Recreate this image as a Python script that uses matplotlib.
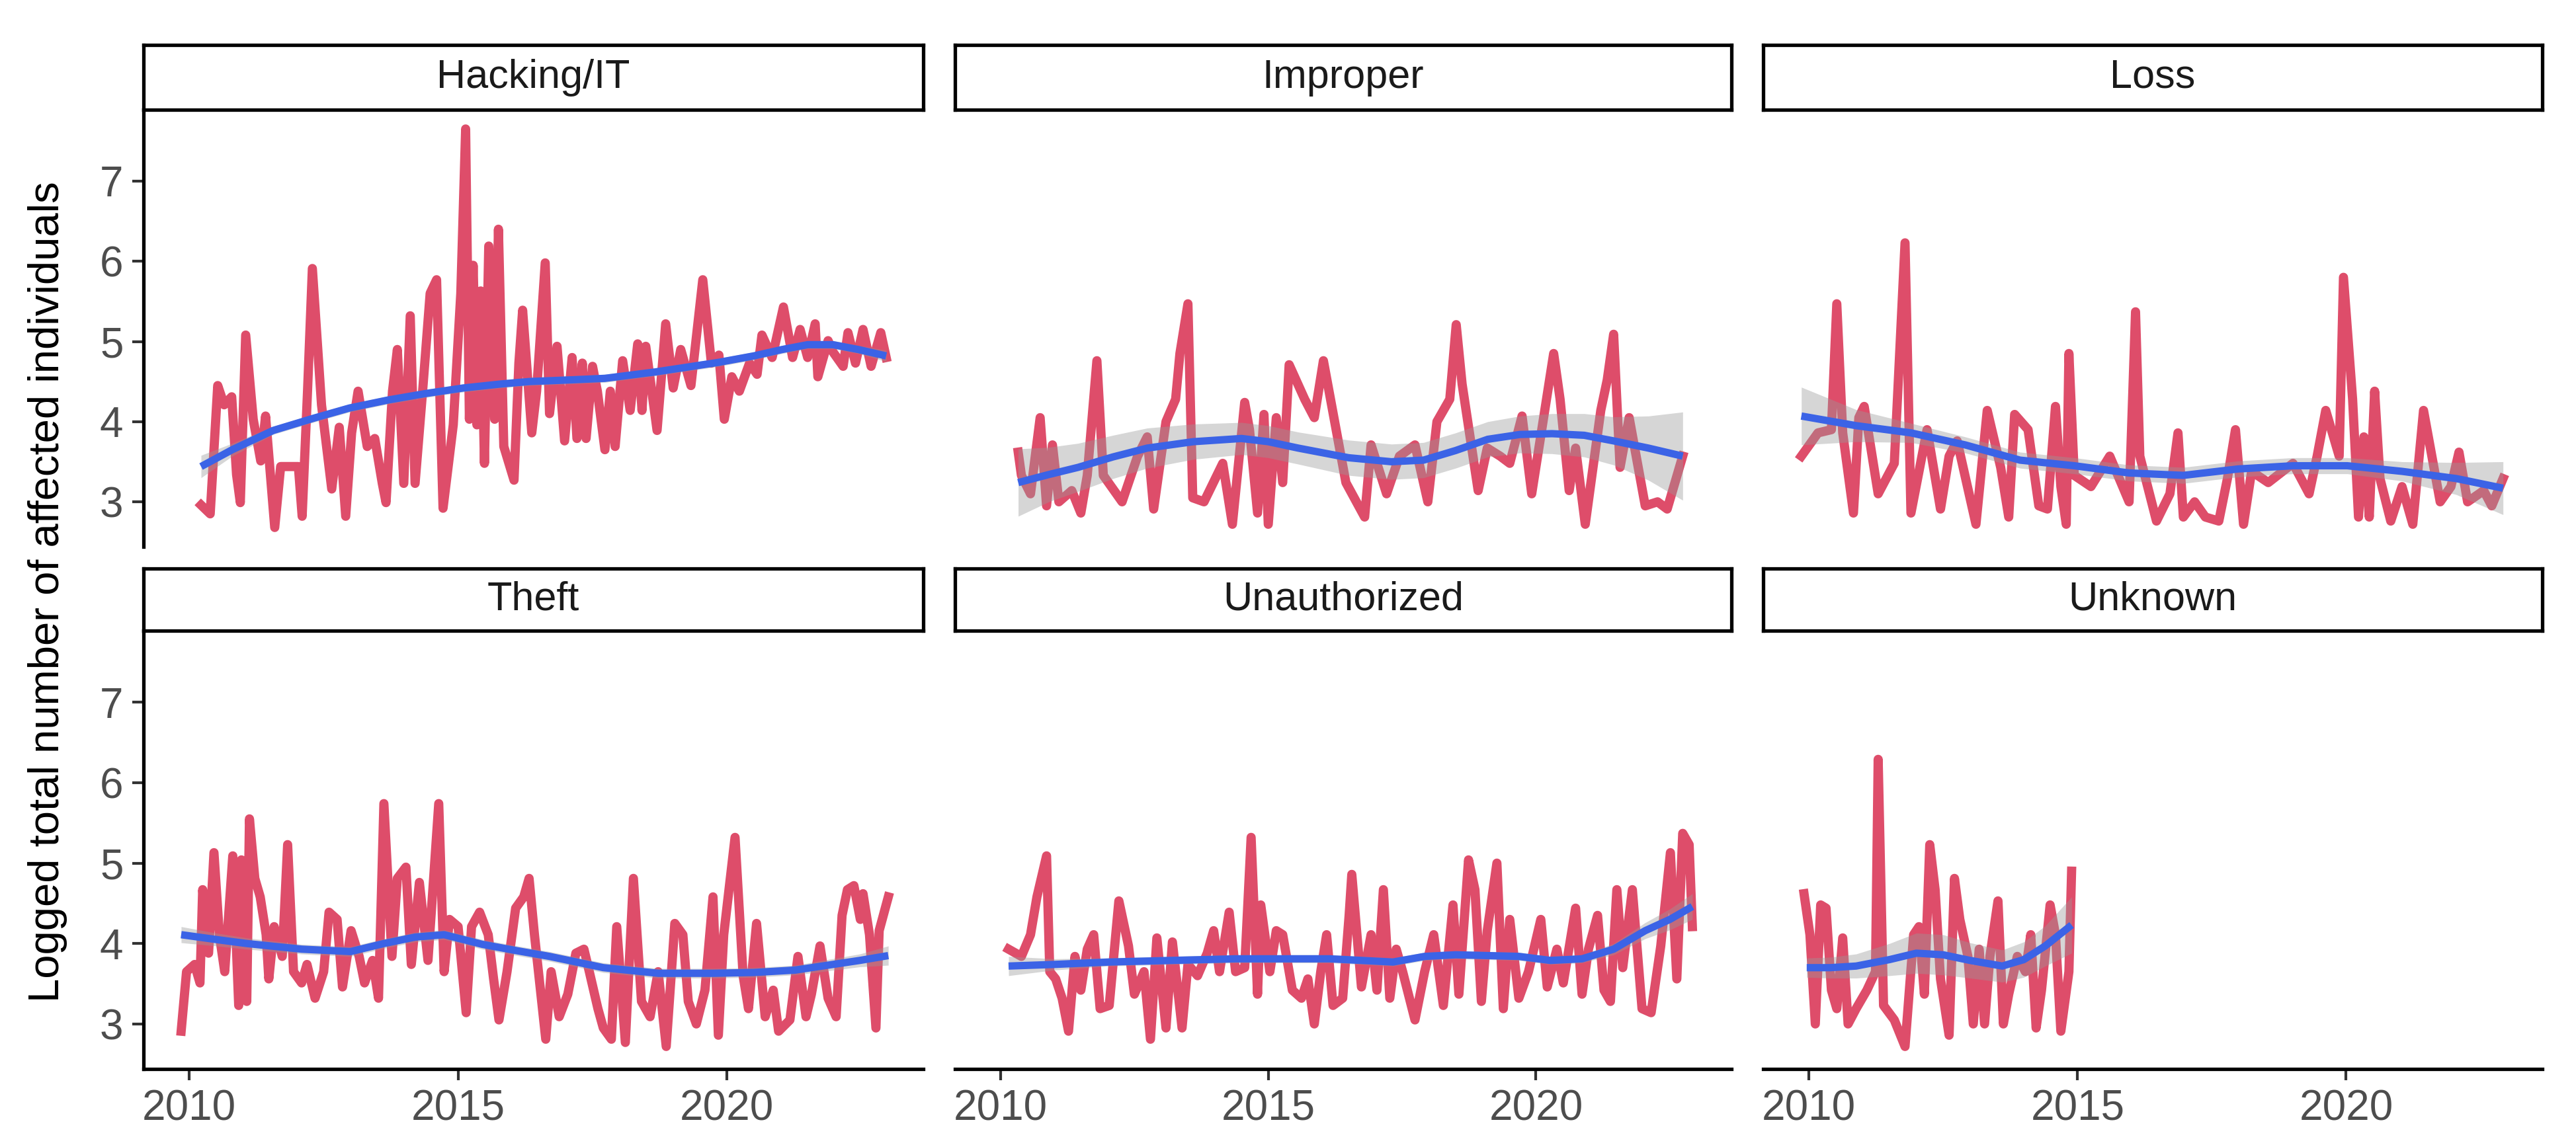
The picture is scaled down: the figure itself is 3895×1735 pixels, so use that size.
# Faceted monthly series of logged breach sizes by breach type, with a smooth trend
import numpy as np
import matplotlib
matplotlib.use("Agg")
import matplotlib.pyplot as plt

plt.rcParams['font.family'] = ['Liberation Sans', 'DejaVu Sans']

# facet names
categories = ["Hacking/IT", "Improper", "Loss", "Theft", "Unauthorized", "Unknown"]

# raw series (decimal year, logged total)
hacking_x = [2010.22, 2010.39, 2010.53, 2010.65, 2010.79, 2010.88, 2010.95, 2011.05, 2011.19, 2011.33,
             2011.42, 2011.59, 2011.70, 2012.03, 2012.10, 2012.20, 2012.29, 2012.46, 2012.65, 2012.79,
             2012.91, 2013.02, 2013.14, 2013.31, 2013.45, 2013.59, 2013.66, 2013.78, 2013.87, 2013.99,
             2014.11, 2014.20, 2014.34, 2014.48, 2014.60, 2014.72, 2014.91, 2015.05, 2015.14, 2015.21,
             2015.28, 2015.35, 2015.42, 2015.49, 2015.57, 2015.68, 2015.75, 2015.85, 2016.04, 2016.13,
             2016.20, 2016.37, 2016.46, 2016.62, 2016.70, 2016.84, 2016.98, 2017.12, 2017.21, 2017.31,
             2017.38, 2017.50, 2017.59, 2017.73, 2017.83, 2017.92, 2018.06, 2018.20, 2018.34, 2018.42,
             2018.49, 2018.70, 2018.86, 2019.00, 2019.14, 2019.33, 2019.55, 2019.71, 2019.85, 2019.95,
             2020.09, 2020.23, 2020.42, 2020.56, 2020.65, 2020.84, 2021.05, 2021.22, 2021.36, 2021.50,
             2021.64, 2021.69, 2021.88, 2021.97, 2022.16, 2022.25, 2022.39, 2022.53, 2022.68, 2022.86,
             2022.96]
hacking_y = [2.96, 2.85, 4.45, 4.21, 4.31, 3.34, 2.99, 5.08, 4.03, 3.51,
             4.07, 2.68, 3.44, 3.44, 2.82, 4.38, 5.91, 4.21, 3.16, 3.93,
             2.82, 3.86, 4.38, 3.69, 3.79, 3.23, 2.99, 4.38, 4.90, 3.23,
             5.32, 3.23, 4.38, 5.60, 5.77, 2.92, 3.96, 5.60, 7.65, 4.03,
             5.95, 3.96, 5.63, 3.48, 6.19, 4.03, 6.40, 3.69, 3.27, 4.73,
             5.39, 3.86, 4.38, 5.98, 4.10, 4.94, 3.76, 4.80, 3.79, 4.73,
             3.79, 4.69, 4.38, 3.65, 4.38, 3.69, 4.76, 4.14, 4.97, 4.14,
             4.94, 3.89, 5.22, 4.42, 4.90, 4.45, 5.77, 4.73, 4.83, 4.03,
             4.56, 4.38, 4.73, 4.59, 5.08, 4.80, 5.43, 4.80, 5.15, 4.80,
             5.22, 4.56, 5.01, 4.87, 4.69, 5.11, 4.73, 5.15, 4.69, 5.11,
             4.80]

improper_x = [2010.33, 2010.39, 2010.56, 2010.74, 2010.86, 2010.97, 2011.09, 2011.33, 2011.50, 2011.62,
              2011.80, 2011.92, 2012.27, 2012.56, 2012.74, 2012.86, 2013.09, 2013.27, 2013.35, 2013.50,
              2013.59, 2013.80, 2014.15, 2014.33, 2014.56, 2014.65, 2014.80, 2014.92, 2015.00, 2015.15,
              2015.27, 2015.39, 2015.68, 2015.86, 2016.03, 2016.45, 2016.80, 2016.92, 2017.21, 2017.45,
              2017.74, 2017.98, 2018.15, 2018.39, 2018.51, 2018.62, 2018.92, 2019.09, 2019.33, 2019.51,
              2019.74, 2019.92, 2020.33, 2020.45, 2020.62, 2020.74, 2020.92, 2021.21, 2021.33, 2021.45,
              2021.57, 2021.74, 2022.04, 2022.27, 2022.45, 2022.74]
improper_y = [3.62, 3.33, 3.10, 4.05, 2.95, 3.71, 3.00, 3.14, 2.86, 3.33,
              4.76, 3.33, 3.00, 3.57, 3.81, 2.91, 4.00, 4.28, 4.85, 5.47,
              3.05, 3.00, 3.48, 2.72, 4.24, 3.90, 2.86, 4.09, 2.72, 4.05,
              3.24, 4.71, 4.28, 4.05, 4.76, 3.24, 2.81, 3.71, 3.10, 3.57,
              3.71, 3.00, 4.00, 4.28, 5.21, 4.47, 3.14, 3.67, 3.57, 3.48,
              4.07, 3.10, 4.85, 4.28, 3.14, 3.67, 2.72, 4.14, 4.52, 5.09,
              3.43, 4.05, 2.95, 3.00, 2.91, 3.57]

loss_x = [2009.86, 2010.17, 2010.42, 2010.52, 2010.63, 2010.83, 2010.93, 2011.03, 2011.29, 2011.59,
          2011.79, 2011.90, 2012.20, 2012.45, 2012.61, 2012.76, 2013.11, 2013.32, 2013.57, 2013.72,
          2013.83, 2014.08, 2014.28, 2014.44, 2014.59, 2014.69, 2014.79, 2014.84, 2014.94, 2015.25,
          2015.60, 2015.96, 2016.08, 2016.16, 2016.47, 2016.72, 2016.87, 2016.97, 2017.18, 2017.38,
          2017.63, 2017.79, 2017.94, 2018.09, 2018.24, 2018.55, 2019.01, 2019.31, 2019.46, 2019.62,
          2019.87, 2019.95, 2020.12, 2020.23, 2020.33, 2020.43, 2020.53, 2020.63, 2020.83, 2021.04,
          2021.24, 2021.44, 2021.75, 2021.95, 2022.10, 2022.26, 2022.56, 2022.71, 2022.92]
loss_y = [3.57, 3.86, 3.90, 5.47, 3.86, 2.86, 4.05, 4.19, 3.10, 3.48,
          6.23, 2.86, 3.90, 2.91, 3.57, 3.76, 2.72, 4.14, 3.43, 2.81,
          4.09, 3.90, 2.95, 2.91, 4.19, 3.19, 2.72, 4.85, 3.33, 3.19,
          3.57, 3.00, 5.37, 3.57, 2.76, 3.10, 3.86, 2.81, 3.00, 2.81,
          2.76, 3.29, 3.90, 2.72, 3.38, 3.24, 3.48, 3.10, 3.57, 4.14,
          3.57, 5.80, 4.28, 2.81, 3.81, 2.81, 4.38, 3.29, 2.76, 3.19,
          2.72, 4.14, 3.00, 3.19, 3.62, 3.00, 3.14, 2.95, 3.29]

theft_x = [2009.85, 2009.95, 2010.10, 2010.20, 2010.25, 2010.36, 2010.46, 2010.56, 2010.66, 2010.81,
           2010.92, 2010.97, 2011.07, 2011.12, 2011.22, 2011.32, 2011.43, 2011.48, 2011.58, 2011.73,
           2011.83, 2011.94, 2012.09, 2012.19, 2012.34, 2012.50, 2012.60, 2012.75, 2012.85, 2013.01,
           2013.16, 2013.26, 2013.41, 2013.52, 2013.62, 2013.77, 2013.87, 2014.03, 2014.13, 2014.28,
           2014.44, 2014.64, 2014.74, 2014.84, 2015.00, 2015.15, 2015.25, 2015.40, 2015.56, 2015.66,
           2015.76, 2015.91, 2016.07, 2016.22, 2016.32, 2016.42, 2016.63, 2016.73, 2016.88, 2017.04,
           2017.19, 2017.34, 2017.44, 2017.60, 2017.70, 2017.85, 2017.95, 2018.11, 2018.26, 2018.41,
           2018.57, 2018.72, 2018.87, 2019.03, 2019.18, 2019.28, 2019.43, 2019.59, 2019.74, 2019.84,
           2019.94, 2020.15, 2020.30, 2020.40, 2020.55, 2020.71, 2020.86, 2020.96, 2021.17, 2021.32,
           2021.47, 2021.57, 2021.73, 2021.88, 2022.03, 2022.14, 2022.24, 2022.36, 2022.48, 2022.53,
           2022.65, 2022.77, 2022.83, 2023.00]
theft_y = [2.91, 3.65, 3.74, 3.51, 4.67, 3.88, 5.13, 4.11, 3.65, 5.09,
           3.23, 5.04, 3.28, 5.55, 4.81, 4.58, 4.11, 3.56, 4.21, 3.84,
           5.23, 3.65, 3.51, 3.74, 3.32, 3.65, 4.39, 4.30, 3.46, 4.16,
           3.84, 3.51, 3.79, 3.32, 5.74, 3.84, 4.81, 4.95, 3.74, 4.76,
           3.79, 5.74, 3.65, 4.30, 4.21, 3.14, 4.21, 4.39, 4.11, 3.56,
           3.05, 3.65, 4.44, 4.58, 4.81, 4.11, 2.81, 3.65, 3.09, 3.37,
           3.88, 3.93, 3.65, 3.19, 2.95, 2.81, 4.21, 2.77, 4.81, 3.28,
           3.09, 3.65, 2.72, 4.25, 4.11, 3.28, 3.00, 3.42, 4.58, 2.86,
           4.11, 5.32, 3.60, 3.19, 4.25, 3.09, 3.42, 2.91, 3.05, 3.84,
           3.09, 3.37, 3.97, 3.32, 3.09, 4.35, 4.67, 4.72, 4.30, 4.62,
           4.11, 2.95, 4.16, 4.58]

unauth_x = [2010.15, 2010.39, 2010.56, 2010.68, 2010.86, 2010.92, 2011.03, 2011.15, 2011.27, 2011.39,
            2011.50, 2011.62, 2011.74, 2011.86, 2012.03, 2012.21, 2012.39, 2012.50, 2012.68, 2012.80,
            2012.92, 2013.09, 2013.21, 2013.39, 2013.50, 2013.68, 2013.86, 2013.98, 2014.09, 2014.27,
            2014.39, 2014.56, 2014.68, 2014.80, 2014.86, 2015.03, 2015.15, 2015.27, 2015.45, 2015.62,
            2015.74, 2015.86, 2015.98, 2016.09, 2016.21, 2016.39, 2016.51, 2016.56, 2016.74, 2016.92,
            2017.03, 2017.15, 2017.27, 2017.39, 2017.51, 2017.74, 2017.92, 2018.09, 2018.27, 2018.45,
            2018.56, 2018.74, 2018.86, 2018.98, 2019.09, 2019.27, 2019.39, 2019.51, 2019.68, 2019.86,
            2020.09, 2020.21, 2020.39, 2020.51, 2020.74, 2020.86, 2020.98, 2021.15, 2021.27, 2021.39,
            2021.51, 2021.62, 2021.80, 2021.98, 2022.15, 2022.33, 2022.51, 2022.63, 2022.74, 2022.86,
            2022.92]
unauth_y = [3.93, 3.84, 4.11, 4.58, 5.09, 3.65, 3.56, 3.32, 2.91, 3.84,
            3.42, 3.93, 4.11, 3.19, 3.23, 4.53, 3.97, 3.37, 3.65, 2.81,
            4.07, 2.95, 4.02, 2.95, 3.74, 3.60, 3.88, 4.16, 3.65, 4.39,
            3.65, 3.70, 5.32, 3.37, 4.48, 3.65, 4.16, 4.11, 3.42, 3.32,
            3.56, 3.00, 3.65, 4.11, 3.23, 3.32, 4.35, 4.86, 3.46, 4.11,
            3.42, 4.67, 3.32, 3.93, 3.65, 3.05, 3.65, 4.11, 3.23, 4.48,
            3.37, 5.04, 4.67, 3.28, 4.16, 5.00, 3.19, 4.30, 3.32, 3.65,
            4.30, 3.46, 3.93, 3.51, 4.44, 3.37, 3.93, 4.35, 3.42, 3.28,
            4.67, 3.70, 4.67, 3.19, 3.14, 3.97, 5.13, 3.56, 5.37, 5.23,
            4.21]

unknown_x = [2009.91, 2010.02, 2010.12, 2010.22, 2010.32, 2010.42, 2010.52, 2010.63, 2010.73, 2010.88,
             2011.08, 2011.24, 2011.29, 2011.39, 2011.59, 2011.79, 2011.95, 2012.05, 2012.15, 2012.25,
             2012.35, 2012.45, 2012.61, 2012.71, 2012.81, 2012.96, 2013.06, 2013.17, 2013.27, 2013.37,
             2013.52, 2013.62, 2013.72, 2013.88, 2014.03, 2014.13, 2014.23, 2014.33, 2014.49, 2014.59,
             2014.69, 2014.84, 2014.89]
unknown_y = [4.62, 4.11, 3.00, 4.48, 4.44, 3.42, 3.19, 4.07, 3.00, 3.19,
             3.42, 3.65, 6.29, 3.23, 3.05, 2.72, 4.11, 4.21, 3.37, 5.23,
             4.67, 3.56, 2.86, 4.81, 4.30, 3.84, 3.00, 3.93, 3.00, 3.84,
             4.53, 3.00, 3.37, 3.84, 3.65, 4.11, 2.95, 3.42, 4.48, 4.11,
             2.91, 3.65, 4.90]

# smooth trend (year, fitted value, half width of the grey band)
hacking_fit_x = [2010.22, 2010.8, 2011.56, 2012.3, 2012.98, 2013.7, 2014.39, 2015.1, 2015.80, 2016.32,
                 2017.06, 2017.73, 2018.67, 2019.85, 2020.5, 2021.03, 2021.5, 2021.97, 2022.44, 2022.96]
hacking_fit_y = [3.44, 3.65, 3.89, 4.04, 4.17, 4.27, 4.35, 4.42, 4.47, 4.50,
                 4.52, 4.54, 4.62, 4.74, 4.82, 4.90, 4.96, 4.96, 4.90, 4.82]
hacking_fit_se = [0.14, 0.08, 0.05, 0.05, 0.05, 0.05, 0.05, 0.05, 0.05, 0.05,
                  0.05, 0.05, 0.05, 0.05, 0.05, 0.05, 0.05, 0.05, 0.05, 0.07]

improper_fit_x = [2010.33, 2010.9, 2011.45, 2012.1, 2012.74, 2013.6, 2014.5, 2015.0, 2015.56, 2016.5,
                  2017.3, 2017.9, 2018.5, 2019.1, 2019.7, 2020.3, 2020.9, 2021.45, 2022.1, 2022.74]
improper_fit_y = [3.24, 3.34, 3.43, 3.56, 3.67, 3.75, 3.79, 3.75, 3.67, 3.55,
                  3.50, 3.52, 3.64, 3.78, 3.84, 3.85, 3.83, 3.76, 3.67, 3.57]
improper_fit_se = [0.42, 0.34, 0.30, 0.27, 0.25, 0.22, 0.20, 0.20, 0.20, 0.22,
                   0.22, 0.22, 0.22, 0.22, 0.23, 0.25, 0.27, 0.30, 0.40, 0.55]

loss_fit_x = [2009.86, 2010.88, 2011.90, 2012.91, 2013.93, 2014.94, 2015.96, 2016.97, 2017.99, 2019.01,
              2020.02, 2021.04, 2022.05, 2022.92]
loss_fit_y = [4.07, 3.95, 3.86, 3.71, 3.52, 3.45, 3.36, 3.33, 3.41, 3.45,
              3.45, 3.38, 3.29, 3.17]
loss_fit_se = [0.36, 0.20, 0.12, 0.10, 0.10, 0.10, 0.10, 0.10, 0.10, 0.10,
               0.10, 0.12, 0.20, 0.33]

theft_fit_x = [2009.85, 2010.5, 2011.07, 2012.09, 2013.0, 2013.62, 2014.2, 2014.74, 2015.45, 2016.1,
               2016.7, 2017.7, 2018.72, 2019.74, 2020.5, 2021.27, 2022.47, 2023.0]
theft_fit_y = [4.11, 4.05, 4.00, 3.93, 3.90, 4.00, 4.08, 4.11, 3.99, 3.91,
               3.84, 3.70, 3.63, 3.63, 3.64, 3.67, 3.79, 3.85]
theft_fit_se = [0.10, 0.08, 0.07, 0.06, 0.06, 0.06, 0.06, 0.06, 0.06, 0.06,
                0.06, 0.06, 0.06, 0.06, 0.06, 0.06, 0.08, 0.12]

unauth_fit_x = [2010.15, 2011.0, 2012.03, 2013.2, 2014.39, 2015.3, 2016.15, 2017.33, 2017.92, 2018.5,
                2019.1, 2019.68, 2020.27, 2020.86, 2021.45, 2022.04, 2022.5, 2022.92]
unauth_fit_y = [3.72, 3.74, 3.77, 3.79, 3.81, 3.81, 3.81, 3.77, 3.84, 3.86,
                3.85, 3.84, 3.79, 3.81, 3.93, 4.16, 4.30, 4.46]
unauth_fit_se = [0.12, 0.07, 0.05, 0.05, 0.05, 0.05, 0.05, 0.05, 0.05, 0.05,
                 0.05, 0.05, 0.05, 0.05, 0.07, 0.10, 0.13, 0.16]

unknown_fit_x = [2009.96, 2010.4, 2010.88, 2011.5, 2012.0, 2012.5, 2013.0, 2013.6, 2014.0, 2014.4, 2014.89]
unknown_fit_y = [3.70, 3.70, 3.72, 3.80, 3.88, 3.86, 3.79, 3.72, 3.80, 3.97, 4.23]
unknown_fit_se = [0.12, 0.13, 0.15, 0.20, 0.25, 0.25, 0.22, 0.20, 0.22, 0.25, 0.35]

x_ticks = [2010, 2015, 2020]
y_ticks = [3, 4, 5, 6, 7]

series = [
    (hacking_x, hacking_y, hacking_fit_x, hacking_fit_y, hacking_fit_se),
    (improper_x, improper_y, improper_fit_x, improper_fit_y, improper_fit_se),
    (loss_x, loss_y, loss_fit_x, loss_fit_y, loss_fit_se),
    (theft_x, theft_y, theft_fit_x, theft_fit_y, theft_fit_se),
    (unauth_x, unauth_y, unauth_fit_x, unauth_fit_y, unauth_fit_se),
    (unknown_x, unknown_y, unknown_fit_x, unknown_fit_y, unknown_fit_se),
]

# layout in pixels of the 3895 x 1735 canvas
W, H = 3895, 1735
cols = [(217, 1396), (1444, 2618), (2666, 3844)]
rows = [(68, 166, 827), (860, 954, 1617)]   # strip top, panel top, panel bottom

red = '#DE4D6A'
blue = '#3B63E6'

fig = plt.figure(figsize=(W / 100, H / 100), dpi=100)

for i, name in enumerate(categories):
    r, c = divmod(i, 3)
    x0, x1 = cols[c]
    s_top, p_top, p_bot = rows[r]
    x, y, fx, fy, fse = [np.asarray(a, dtype=float) for a in series[i]]

    ax = fig.add_axes([x0 / W, 1 - p_bot / H, (x1 - x0) / W, (p_bot - p_top) / H])
    ax.plot(x, y, color=red, lw=10, solid_joinstyle='round', zorder=2)
    ax.fill_between(fx, fy - fse, fy + fse, color='#999999', alpha=0.4, lw=0, zorder=3)
    ax.plot(fx, fy, color=blue, lw=8, solid_capstyle='butt', zorder=4)

    ax.set_xlim(2009.15, 2023.65)
    ax.set_ylim(2.44, 7.89)
    ax.set_xticks(x_ticks)
    ax.set_yticks(y_ticks)
    ax.set_xticklabels([str(t) for t in x_ticks])
    ax.set_yticklabels([str(t) for t in y_ticks])

    for side in ['top', 'right']:
        ax.spines[side].set_visible(False)
    ax.spines['left'].set_visible(c == 0)
    ax.spines['bottom'].set_visible(r == 1)
    ax.spines['left'].set_linewidth(3.8)
    ax.spines['bottom'].set_linewidth(3.8)

    ax.tick_params(axis='x', bottom=(r == 1), labelbottom=(r == 1), length=12, width=3,
                   color='#333333', labelcolor='#4D4D4D', labelsize=46, pad=10)
    ax.tick_params(axis='y', left=(c == 0), labelleft=(c == 0), length=12, width=3,
                   color='#333333', labelcolor='#4D4D4D', labelsize=46, pad=10)

    # facet strip
    sax = fig.add_axes([x0 / W, 1 - p_top / H, (x1 - x0) / W, (p_top - s_top) / H])
    sax.set_xticks([])
    sax.set_yticks([])
    for sp in sax.spines.values():
        sp.set_linewidth(3.8)
        sp.set_color('black')
    sax.text(0.5, 0.5, name, ha='center', va='center', fontsize=44,
             color='#1A1A1A', transform=sax.transAxes)

fig.text(0.0185, 0.484, 'Logged total number of affected individuals', rotation=90,
         ha='center', va='center', fontsize=47, color='black')

fig.savefig('out.png', dpi=100)
